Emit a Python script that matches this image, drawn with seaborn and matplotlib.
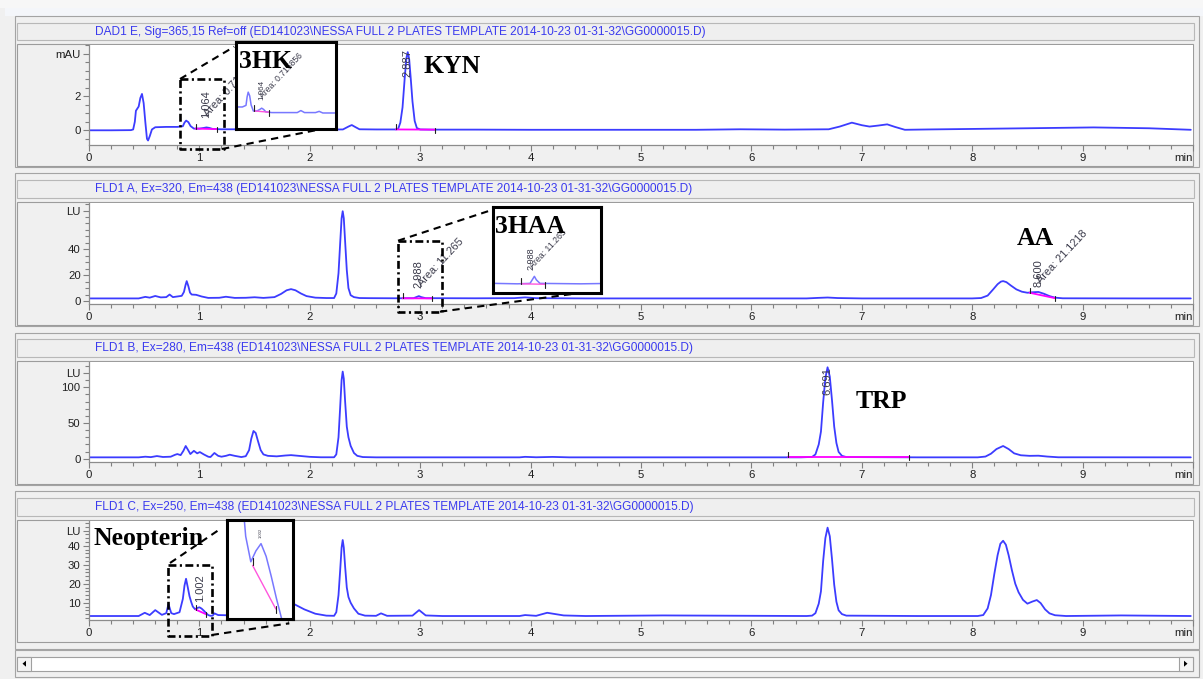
import matplotlib
matplotlib.use('Agg')
import pandas as pd
import matplotlib.pyplot as plt
import seaborn as sns
from matplotlib.patches import Rectangle, Polygon
from matplotlib.lines import Line2D
from matplotlib.ticker import MultipleLocator

sns.set_theme(style='white')
plt.rcParams['font.family'] = ['Liberation Sans', 'DejaVu Sans']

dad_trace = [(0.00, 0.00), (0.20, 0.00), (0.38, 0.01), (0.40, 0.05), (0.415, 0.50), (0.425, 1.15),
             (0.435, 1.25), (0.45, 1.40), (0.465, 1.90), (0.48, 2.14), (0.495, 1.60), (0.51, 0.50),
             (0.525, -0.50), (0.535, -0.60), (0.55, -0.35), (0.57, 0.05), (0.60, 0.18), (0.70, 0.20),
             (0.80, 0.20), (0.85, 0.24), (0.865, 0.45), (0.88, 0.57), (0.90, 0.48), (0.92, 0.25),
             (0.95, 0.10), (1.00, 0.10), (1.04, 0.14), (1.064, 0.17), (1.09, 0.14), (1.12, 0.08),
             (1.20, 0.06), (1.40, 0.06), (1.55, 0.06), (1.60, 0.11), (1.65, 0.06), (1.80, 0.06),
             (1.85, 0.09), (1.90, 0.05), (2.10, 0.05), (2.30, 0.05), (2.35, 0.22), (2.38, 0.31),
             (2.41, 0.20), (2.45, 0.06), (2.60, 0.05), (2.78, 0.05), (2.80, 0.08), (2.82, 0.45),
             (2.84, 1.35), (2.86, 3.10), (2.875, 4.25), (2.887, 4.60), (2.90, 4.20), (2.915, 3.00),
             (2.93, 1.70), (2.95, 0.55), (2.97, 0.13), (3.00, 0.05), (3.10, 0.04), (3.50, 0.04),
             (4.00, 0.03), (4.50, 0.03), (5.00, 0.03), (5.50, 0.03), (5.90, 0.06), (6.30, 0.04),
             (6.70, 0.06), (6.80, 0.22), (6.91, 0.45), (7.00, 0.30), (7.07, 0.22), (7.15, 0.28),
             (7.23, 0.35), (7.30, 0.20), (7.39, 0.03), (7.60, 0.05), (8.00, 0.08), (8.50, 0.12),
             (9.10, 0.17), (9.60, 0.12), (9.98, 0.03)]

fld_a_trace = [(0.00, 2.0), (0.45, 2.0), (0.51, 3.2), (0.55, 2.6), (0.60, 3.9), (0.65, 2.8), (0.70, 3.0),
               (0.73, 5.0), (0.76, 3.0), (0.80, 3.5), (0.84, 4.0), (0.86, 7.0), (0.875, 12.5),
               (0.885, 15.4), (0.90, 11.5), (0.915, 6.5), (0.93, 5.0), (0.97, 4.8), (1.02, 3.5),
               (1.08, 2.4), (1.18, 2.5), (1.24, 3.3), (1.32, 2.4), (1.42, 2.5), (1.50, 2.9), (1.58, 2.4),
               (1.68, 3.0), (1.74, 5.5), (1.79, 8.3), (1.83, 9.2), (1.87, 8.3), (1.92, 5.8), (1.97, 3.8),
               (2.05, 2.6), (2.15, 2.3), (2.22, 2.3), (2.24, 5.8), (2.26, 21.5), (2.275, 44.6),
               (2.288, 64.0), (2.298, 69.5), (2.308, 64.0), (2.32, 46.0), (2.335, 24.0), (2.35, 10.0),
               (2.37, 4.5), (2.40, 3.0), (2.45, 2.3), (2.55, 2.2), (2.80, 2.1), (2.94, 2.2), (2.97, 3.2),
               (2.988, 3.8), (3.01, 3.0), (3.05, 2.2), (3.50, 2.1), (3.85, 2.2), (3.95, 2.8), (4.05, 2.2),
               (4.50, 2.0), (5.50, 2.0), (6.50, 2.0), (6.60, 2.4), (6.69, 2.7), (6.78, 2.3), (7.00, 2.0),
               (8.00, 2.0), (8.08, 2.3), (8.14, 4.2), (8.19, 9.0), (8.23, 13.0), (8.26, 15.0),
               (8.28, 15.4), (8.31, 14.6), (8.35, 12.0), (8.40, 9.0), (8.45, 7.2), (8.50, 6.4),
               (8.55, 6.8), (8.60, 7.0), (8.65, 5.6), (8.70, 3.8), (8.75, 2.6), (8.82, 2.1), (9.50, 2.0),
               (9.98, 2.0)]

fld_b_trace = [(0.00, 1.9), (0.45, 1.9), (0.51, 2.8), (0.56, 2.2), (0.615, 3.7), (0.67, 2.4), (0.74, 2.8),
               (0.78, 5.5), (0.80, 6.5), (0.83, 5.0), (0.855, 11.0), (0.876, 17.8), (0.90, 11.5),
               (0.918, 6.5), (0.95, 11.0), (0.98, 7.5), (1.004, 9.3), (1.04, 6.0), (1.08, 2.8),
               (1.10, 2.3), (1.136, 8.0), (1.17, 4.0), (1.20, 2.8), (1.24, 4.0), (1.275, 5.6), (1.32, 4.0),
               (1.38, 2.3), (1.42, 3.5), (1.45, 12.0), (1.47, 28.0), (1.49, 38.8), (1.51, 36.0),
               (1.53, 25.0), (1.555, 12.0), (1.58, 6.0), (1.62, 4.0), (1.70, 3.3), (1.78, 4.5),
               (1.83, 5.0), (1.90, 4.0), (2.00, 2.6), (2.10, 2.0), (2.22, 2.0), (2.24, 6.0), (2.26, 30.0),
               (2.275, 72.0), (2.288, 110.0), (2.298, 122.0), (2.308, 112.0), (2.32, 80.0),
               (2.335, 45.0), (2.35, 30.0), (2.37, 18.0), (2.40, 8.0), (2.43, 4.0), (2.48, 2.3),
               (2.60, 1.9), (3.90, 1.9), (3.95, 2.6), (4.05, 2.0), (4.20, 2.5), (4.35, 1.9), (6.45, 1.9),
               (6.55, 2.5), (6.58, 6.0), (6.61, 20.0), (6.63, 38.0), (6.65, 79.0), (6.67, 113.0),
               (6.69, 128.0), (6.71, 115.0), (6.73, 82.0), (6.75, 45.0), (6.77, 22.0), (6.79, 9.5),
               (6.82, 4.0), (6.86, 2.3), (7.50, 1.9), (8.05, 1.9), (8.12, 3.0), (8.17, 7.0),
               (8.22, 13.5), (8.28, 17.8), (8.33, 13.5), (8.38, 7.5), (8.44, 4.8), (8.52, 4.0),
               (8.60, 4.2), (8.68, 3.0), (8.78, 2.0), (9.98, 1.9)]

fld_c_trace = [(0.00, 3.0), (0.45, 3.0), (0.505, 4.7), (0.55, 3.5), (0.60, 6.1), (0.66, 3.6), (0.70, 4.5),
               (0.72, 9.3), (0.745, 4.5), (0.77, 4.0), (0.82, 5.0), (0.85, 12.0), (0.865, 19.0),
               (0.879, 22.6), (0.895, 18.0), (0.91, 13.5), (0.925, 10.5), (0.94, 8.0), (0.96, 6.6),
               (0.98, 7.2), (1.00, 7.6), (1.02, 6.9), (1.04, 5.8), (1.06, 4.6), (1.08, 3.5), (1.10, 3.1),
               (1.12, 3.2), (1.136, 4.4), (1.17, 3.5), (1.25, 3.4), (1.35, 3.8), (1.45, 12.0), (1.50, 16.0),
               (1.58, 13.0), (1.70, 11.5), (1.85, 9.5), (1.95, 6.5), (2.05, 4.2), (2.15, 3.2), (2.22, 3.1),
               (2.24, 5.0), (2.26, 14.0), (2.275, 27.0), (2.288, 39.0), (2.298, 43.0), (2.308, 39.0),
               (2.32, 29.0), (2.335, 18.0), (2.35, 13.0), (2.37, 10.0), (2.40, 7.0), (2.44, 4.2),
               (2.50, 3.2), (2.60, 3.1), (2.645, 4.4), (2.70, 3.1), (2.93, 3.2), (2.99, 6.1), (3.05, 3.3),
               (3.20, 3.0), (3.90, 3.0), (3.95, 3.5), (4.05, 3.1), (4.15, 4.7), (4.30, 3.3), (4.50, 3.0),
               (5.20, 3.3), (6.50, 3.0), (6.55, 3.2), (6.58, 4.5), (6.61, 9.5), (6.63, 16.0), (6.65, 32.0),
               (6.67, 44.0), (6.69, 49.5), (6.71, 45.0), (6.73, 33.0), (6.75, 19.5), (6.77, 10.5),
               (6.79, 6.0), (6.82, 4.0), (6.86, 3.2), (7.50, 3.0), (8.05, 3.0), (8.10, 3.5), (8.14, 7.0),
               (8.17, 14.0), (8.20, 25.0), (8.23, 35.0), (8.255, 41.0), (8.28, 42.6), (8.305, 40.5),
               (8.33, 35.0), (8.36, 27.0), (8.39, 20.0), (8.42, 15.5), (8.46, 11.5), (8.50, 9.5),
               (8.545, 10.6), (8.585, 11.4), (8.62, 9.8), (8.66, 6.5), (8.70, 4.4), (8.75, 3.4),
               (8.85, 3.0), (9.35, 3.3), (9.98, 3.0)]

# lineas base de integracion (t inicio, valor, t fin, valor)
dad_int = [(0.965, 0.10, 1.16, 0.07), (2.78, 0.05, 3.13, 0.04)]
fld_a_int = [(2.84, 2.1, 3.11, 2.0), (8.52, 6.4, 8.75, 2.2)]
fld_b_int = [(6.33, 1.9, 7.43, 1.9)]
fld_c_int = [(0.967, 6.4, 1.058, 4.0)]

# tiempos de retencion y areas rotuladas
dad_rt = [1.064, 2.887]
dad_area = ['0.715856', None]
fld_a_rt = [2.988, 8.600]
fld_a_area = ['11.265', '21.1218']
fld_b_rt = [6.691]
fld_c_rt = [1.002]

compounds = ['3HK', 'KYN', '3HAA', 'AA', 'TRP', 'Neopterin']

base = '(ED141023\\NESSA FULL 2 PLATES TEMPLATE 2014-10-23 01-31-32\\GG0000015.D)'
titles = ['DAD1 E, Sig=365,15 Ref=off ' + base,
          'FLD1 A, Ex=320, Em=438 ' + base,
          'FLD1 B, Ex=280, Em=438 ' + base,
          'FLD1 C, Ex=250, Em=438 ' + base]

# --- figura ---
W, H = 1203, 679
fig = plt.figure(figsize=(W / 100, H / 100), dpi=100, facecolor='#f0f0f0')


def fx(x):
    return x / W


def fy(y):
    return 1 - y / H


def rect(x0, y0, x1, y1, z=0.5, **kw):
    fig.add_artist(Rectangle((fx(x0), fy(y1)), (x1 - x0) / W, (y1 - y0) / H,
                             transform=fig.transFigure, zorder=z, **kw))


def fig_line(xs, ys, z=5, **kw):
    fig.add_artist(Line2D([fx(x) for x in xs], [fy(y) for y in ys],
                          transform=fig.transFigure, zorder=z, **kw))


def add_ax(x0, y0, x1, y1):
    return fig.add_axes([fx(x0), fy(y1), (x1 - x0) / W, (y1 - y0) / H])


def draw_trace(ax, trace, color, lw):
    df = pd.DataFrame(trace, columns=['t', 'v'])
    sns.lineplot(data=df, x='t', y='v', ax=ax, color=color, linewidth=lw,
                 estimator=None, sort=False, legend=False)
    ax.set_xlabel('')
    ax.set_ylabel('')


def draw_int(ax, events, color, lw, h, ticks=True):
    for t0, v0, t1, v1 in events:
        ax.plot([t0, t1], [v0, v1], color=color, lw=lw, zorder=3)
        if ticks:
            ax.plot([t0, t0], [v0, v0 + h], color='#202020', lw=0.8, zorder=3)
            ax.plot([t1, t1], [v1 - h * 0.6, v1 + h * 0.4], color='#202020', lw=0.8, zorder=3)


# barra superior de la ventana
rect(0, 0, W, 7.5, fc='#f7f7f7', ec='none', z=0.1)
rect(5, 8, W, 16, fc='#f4f6fa', ec='none', z=0.1)

geom = [
    (16, 167, 23, 40, 44, 166, 45, 145),
    (173, 326, 180, 197.5, 202, 325, 203, 303.5),
    (332.5, 485, 339, 356.7, 361, 484, 362, 461.7),
    (490.5, 649, 498, 516, 519.5, 641.5, 521, 620),
]
ylims = [(-0.865, 5.02), (-1.93, 75.85), (-4.2, 135.4), (0.9, 53.0)]
ymajor = [[0, 2], [0, 20, 40], [0, 50, 100], [10, 20, 30, 40]]
yunit = [(4.5, 'mAU'), (70, 'LU'), (120, 'LU'), (48, 'LU')]
yminor = [0.5, 5, 10, 2]
traces = [dad_trace, fld_a_trace, fld_b_trace, fld_c_trace]
ints = [dad_int, fld_a_int, fld_b_int, fld_c_int]
tick_h = [0.3, 3.9, 7.0, 2.6]

line_col = '#3c3cff'
pink = '#ff00ff'
axes = []
for i, g in enumerate(geom):
    o0, o1, t0, t1, n0, n1, a0, a1 = g
    rect(15, o0, 1199, o1, fc='#f0f0f0', ec='#a4a4a4', lw=0.8)
    rect(17, t0, 1194, t1, fc='#efefef', ec='#b8b8b8', lw=0.8)
    rect(17, n0, 1193, n1, fc='#f0f0f0', ec='#9c9c9c', lw=0.8)
    fig.text(fx(95), fy((t0 + t1) / 2), titles[i], color='#3a3aee', fontsize=8.6,
             ha='left', va='center', zorder=3)

    ax = add_ax(89, a0, 1193, a1)
    ax.set_zorder(2)
    ax.set_facecolor('white')
    draw_trace(ax, traces[i], line_col, 1.3)
    draw_int(ax, ints[i], pink, 1.3, tick_h[i])
    ax.set_xlim(0, 10.0)
    ax.set_ylim(*ylims[i])
    for s in ['top', 'right']:
        ax.spines[s].set_visible(False)
    for s in ['left', 'bottom']:
        ax.spines[s].set_color('#8c8c8c')
        ax.spines[s].set_linewidth(0.9)
    ax.set_xticks(range(11))
    ax.set_xticklabels([str(k) for k in range(10)] + ['min'])
    ax.get_xticklabels()[-1].set_ha('right')
    ax.xaxis.get_major_ticks()[-1].tick1line.set_visible(False)
    ax.xaxis.set_minor_locator(MultipleLocator(0.2))
    ax.set_yticks(ymajor[i] + [yunit[i][0]])
    ax.set_yticklabels([str(v) for v in ymajor[i]] + [yunit[i][1]])
    ax.yaxis.set_minor_locator(MultipleLocator(yminor[i]))
    ax.tick_params(axis='both', which='major', direction='out', length=4.5, width=0.8,
                   color='#808080', labelsize=8.2, labelcolor='#202020', pad=1.5,
                   bottom=True, left=True)
    ax.tick_params(axis='both', which='minor', direction='out', length=2.6, width=0.8,
                   color='#808080', bottom=True, left=True)
    ax.grid(False)
    axes.append(ax)

lab = dict(fontsize=8, color='#3a3a4a', rotation=90, ha='center', va='bottom', zorder=4)
diag = dict(fontsize=7.8, color='#3a3a4a', rotation=47, rotation_mode='anchor',
            ha='left', va='bottom', zorder=4)
ax1, ax2, ax3, ax4 = axes
ax1.text(dad_rt[0], 0.72, f'{dad_rt[0]:.3f}', **lab)
ax1.text(dad_rt[0] + 0.03, 0.72, 'Area: ' + dad_area[0], **diag)
ax1.text(dad_rt[1], 3.15, f'{dad_rt[1]:.3f}', **lab)
ax2.text(fld_a_rt[0], 10.0, f'{fld_a_rt[0]:.3f}', **lab)
ax2.text(fld_a_rt[0] + 0.04, 10.0, 'Area: ' + fld_a_area[0], **diag)
ax2.text(fld_a_rt[1], 11.0, f'{fld_a_rt[1]:.3f}', **lab)
ax2.text(fld_a_rt[1] + 0.04, 12.0, 'Area: ' + fld_a_area[1], **diag)
ax3.text(fld_b_rt[0], 89.0, f'{fld_b_rt[0]:.3f}', **lab)
ax4.text(fld_c_rt[0], 10.5, f'{fld_c_rt[0]:.3f}', **lab)

# --- recuadros ampliados ---
insets = [
    ((236.5, 41.7, 336, 129), dad_trace, dad_int, (0.72, 2.08), (-0.35, 1.83)),
    ((493, 206.7, 600.5, 293.3), fld_a_trace, fld_a_int, (2.53, 3.72), (-0.05, 19.6)),
    ((227.3, 520, 292.7, 619), fld_c_trace, fld_c_int, (0.868, 1.124), (3.45, 8.9)),
]
iax = []
for box, tr, it, xl, yl in insets:
    a = add_ax(*box)
    a.set_zorder(6)
    a.set_facecolor('white')
    draw_trace(a, tr, '#7878ff', 1.1)
    draw_int(a, it, '#ff55dd', 1.0, (yl[1] - yl[0]) * 0.07)
    a.set_xlim(*xl)
    a.set_ylim(*yl)
    a.set_xticks([])
    a.set_yticks([])
    for s in a.spines.values():
        s.set_color('black')
        s.set_linewidth(2.2)
        s.set_visible(True)
    iax.append(a)

small = dict(color='#3a3a4a', rotation=90, ha='center', va='bottom', zorder=4)
sdiag = dict(color='#3a3a4a', rotation=47, rotation_mode='anchor', ha='left', va='bottom', zorder=4)
iax[0].text(dad_rt[0], 0.375, f'{dad_rt[0]:.3f}', fontsize=5.8, **small)
iax[0].text(dad_rt[0] + 0.035, 0.375, 'Area: ' + dad_area[0], fontsize=6.2, **sdiag)
iax[1].text(fld_a_rt[0] - 0.04, 5.2, f'{fld_a_rt[0]:.3f}', fontsize=6.6, **small)
iax[1].text(fld_a_rt[0] + 0.005, 5.2, 'Area: ' + fld_a_area[0], fontsize=6.3, **sdiag)
iax[2].text(fld_c_rt[0] - 0.004, 7.9, f'{fld_c_rt[0]:.3f}', fontsize=3, **small)

# recuadros punto-raya y conectores
dashdot = (0, (3, 1.3, 0.8, 1.3))
for x0, y0, x1, y1 in [(180, 79, 224, 149), (398, 240.7, 442, 311.7), (168.3, 565, 211.7, 635.5)]:
    fig_line([x0, x1, x1, x0, x0], [y0, y0, y1, y1, y0], color='black', lw=1.9, linestyle=dashdot)
for xs, ys in [((180, 234.2), (79, 46.7)), ((222, 328.4), (149, 127.7)),
               ((398, 491.8), (240.7, 210)), ((440, 597), (311.7, 290.7)),
               ((170, 221.7), (563, 528)), ((211.7, 289.3), (635, 623.3))]:
    fig_line(xs, ys, color='black', lw=1.5, linestyle=(0, (3.5, 2.5)))

# nombres de compuestos
serif = dict(family=['Liberation Serif', 'DejaVu Serif'], fontweight='bold', fontsize=18.5,
             color='black', ha='left', va='baseline', zorder=8)
for name, (x, y) in zip(compounds, [(239, 68), (423, 73), (495, 233.3), (1017, 245),
                                    (856, 408.3), (94, 545)]):
    fig.text(fx(x), fy(y), name, **serif)

# barra de desplazamiento
rect(15, 650, 1199, 677, fc='#f0f0f0', ec='#a4a4a4', lw=0.8)
rect(17, 656.7, 1193, 670.7, fc='white', ec='#a0a0a0', lw=0.8)
rect(17, 656.7, 31, 670.7, fc='#f4f4f4', ec='#a0a0a0', lw=0.8, z=0.6)
rect(1179, 656.7, 1193, 670.7, fc='#f4f4f4', ec='#a0a0a0', lw=0.8, z=0.6)
for pts in [[(26, 660.7), (26, 666.7), (22.5, 663.7)], [(1184, 660.7), (1184, 666.7), (1187.5, 663.7)]]:
    fig.add_artist(Polygon([(fx(x), fy(y)) for x, y in pts], closed=True, fc='black',
                           ec='none', transform=fig.transFigure, zorder=0.7))

fig.savefig('out.png', dpi=100, facecolor=fig.get_facecolor())
